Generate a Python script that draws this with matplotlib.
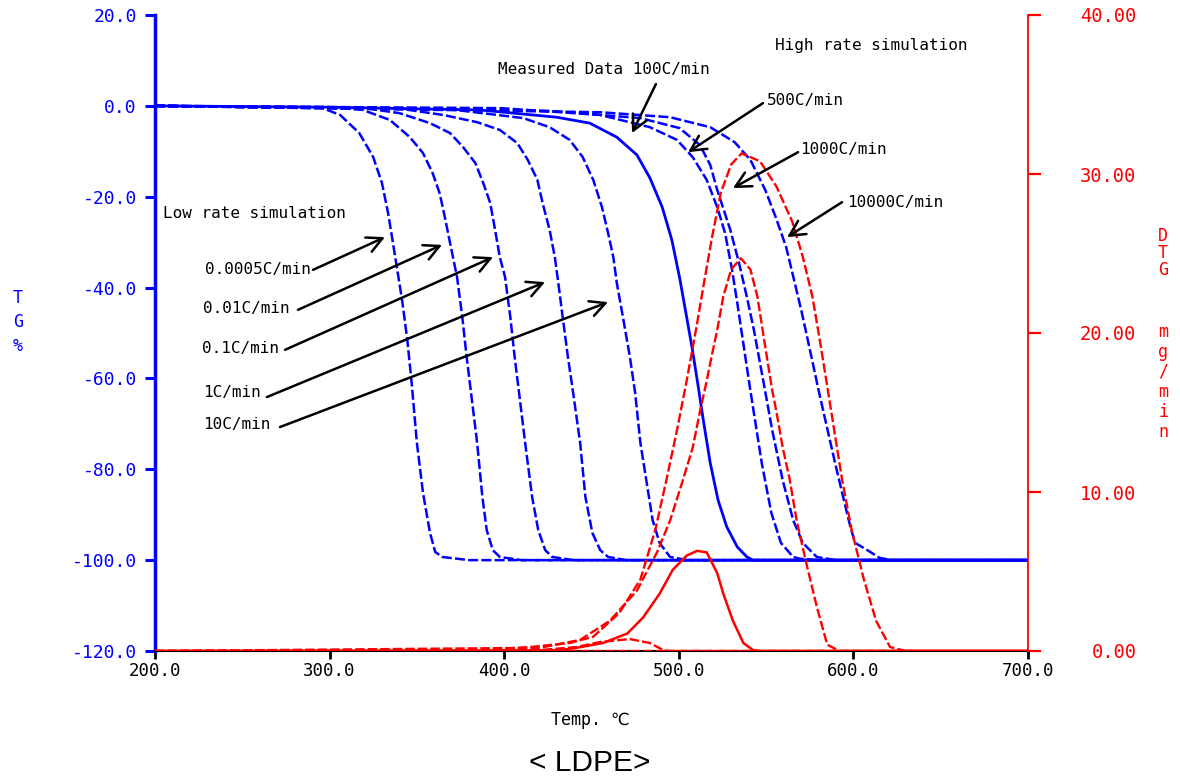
import matplotlib
matplotlib.use("Agg")
import matplotlib.pyplot as plt

plt.rcParams["font.family"] = ["DejaVu Sans Mono", "DejaVu Sans", "Noto Sans CJK JP"]
plt.rcParams["axes.unicode_minus"] = False

BLUE = "#0000ff"
RED = "#ff0000"

# ---- TG curves (%) ----
tg_T_00005 = [200, 296, 306, 317, 325, 330, 333.5, 336, 341.5, 344.5, 347, 350, 353.5, 357.5, 360.5, 364.5, 380, 700]
tg_00005 = [0, -0.5, -2.0, -6.0, -11.3, -17.0, -23.6, -29.5, -42.7, -51.5, -61, -74.2, -85.2, -94, -98.2, -99.3, -100, -100]

tg_T_001 = [200, 300, 319, 334.5, 346, 353.5, 359, 363, 366, 369, 373, 376, 378.5, 381.5, 384.5, 387.5, 390, 393.5, 397.5, 410, 700]
tg_001 = [0, -0.3, -0.9, -3.1, -6.9, -10.4, -14.8, -19.2, -24.5, -30.2, -37.7, -46.5, -55.3, -64.7, -74.2, -86.1, -93.4, -97.8, -99.3, -100, -100]

tg_T_01 = [200, 320, 340, 357.5, 369, 376.5, 383.5, 388, 392, 394.5, 397.5, 400.5, 403.5, 406, 409, 412, 416, 419.5, 423.5, 427.5, 440, 700]
tg_01 = [0, -0.5, -1.6, -3.8, -6.0, -9.1, -12.6, -17.0, -21.4, -26.7, -33.3, -37.7, -46.5, -55.3, -64.7, -74.2, -86.1, -93.4, -97.8, -99.3, -100, -100]

tg_T_1 = [200, 340, 365, 384.5, 397.5, 407.5, 413.5, 419, 422, 426, 429, 431, 433.5, 436.5, 439.5, 443.5, 446.5, 450.5, 455, 459.5, 470, 700]
tg_1 = [0, -0.6, -2.0, -3.6, -5.3, -8.2, -11.9, -16.3, -21.4, -27.3, -33.3, -39, -46.5, -55.3, -63.2, -74.2, -86.1, -94.0, -97.8, -99.3, -100, -100]

tg_T_10 = [200, 370, 396, 411, 426, 437.5, 445, 451, 456, 459.5, 462.5, 464.5, 468, 472, 475, 478, 482, 485, 489, 495, 505, 700]
tg_10 = [0, -0.8, -2.0, -2.7, -4.7, -7.5, -11.3, -16.3, -22.3, -28.0, -33.3, -39, -46.5, -55.3, -63.2, -74.2, -83.9, -91.2, -96.2, -99.3, -100, -100]

tg_T_meas = [200, 300, 386, 430, 449, 464.5, 476, 483.5, 490.5, 496, 500.5, 504.5, 507.8, 510.8, 514, 518, 522.5, 527.5, 533.5, 539, 542.5, 700]
tg_meas = [0, -0.3, -0.9, -2.5, -3.8, -6.9, -10.8, -15.9, -22.3, -29.5, -37.9, -46.5, -53.7, -61, -69.1, -78.6, -86.8, -92.7, -97.1, -99.3, -100, -100]

tg_T_500 = [200, 398, 455, 483.5, 499, 508, 516, 522, 526.5, 530.5, 533.5, 537.5, 540.5, 543, 547.5, 553, 558.5, 565.5, 569.5, 580, 700]
tg_500 = [0, -0.5, -2.0, -4.7, -7.5, -11.3, -16.3, -22.3, -28, -36.1, -43.4, -53.7, -61.4, -67.6, -78.6, -89.6, -96.2, -99.3, -99.7, -100, -100]

tg_T_1000 = [200, 426, 478, 500.5, 512, 518, 522, 529.5, 534.5, 539, 543, 546.5, 548.8, 553.5, 559.5, 565.5, 571, 579, 590, 700]
tg_1000 = [0, -1.1, -2.7, -4.9, -8.6, -13, -18.5, -27.3, -34.6, -42.1, -49.3, -56.6, -61.4, -71.4, -82.4, -91.2, -96.2, -99.3, -100, -100]

tg_T_10000 = [200, 455, 495, 518, 532, 541, 549.5, 555.5, 561.5, 566, 570.5, 576, 580, 583, 589.5, 595.5, 598.5, 601, 608, 615, 622, 700]
tg_10000 = [0, -1.4, -2.5, -4.7, -8, -11.9, -18.5, -24.5, -31.1, -38.3, -45.6, -55.3, -62.5, -67.6, -78.6, -88.3, -93, -96.2, -97.8, -99.5, -100, -100]

# ---- DTG curves (mg/min) ----
dtg_T_high = [200, 386, 415, 437.5, 451, 466, 478, 486.5, 493, 499, 504.5, 510, 514.5, 519, 524, 530, 536,
              546.5, 556, 565, 571, 576.5, 581, 584.5, 589, 593.5, 599, 606, 613, 621, 630, 700]
dtg_high = [0, 0.05, 0.25, 0.5, 0.9, 2.4, 4.5, 7.6, 10.8, 13.9, 17.0, 20.3, 23.2, 26.0, 28.8, 30.6, 31.3,
            30.8, 29.2, 27.0, 24.8, 22.3, 19.4, 17.0, 13.9, 10.8, 7.6, 4.5, 1.9, 0.25, 0, 0]

dtg_T_mid = [200, 420.5, 443.5, 460.5, 476, 487.5, 495, 502.5, 508, 512, 516, 518, 522, 525.5, 530, 535.5,
             541, 545, 548, 551, 553.5, 556, 559.5, 563.5, 567.5, 573.5, 579, 585, 592, 700]
dtg_mid = [0, 0.2, 0.7, 1.9, 3.8, 6.2, 8.2, 10.8, 12.8, 15.0, 17.0, 18.1, 20.2, 22.3, 24.0, 24.7,
           24.0, 22.3, 20.2, 18.1, 16.4, 15.0, 12.8, 10.8, 8.2, 5.3, 2.8, 0.4, 0, 0]

dtg_T_meas = [200, 432, 441.5, 456.5, 470.5, 479.5, 489, 496.5, 504.5, 510.5, 516, 522, 525.5, 531, 537, 542.5, 546.5, 700]
dtg_meas = [0, 0.05, 0.2, 0.5, 1.1, 2.1, 3.6, 5.1, 6.0, 6.3, 6.2, 4.9, 3.6, 1.9, 0.5, 0.06, 0, 0]

dtg_T_10 = [200, 386, 420.5, 441.5, 455, 472, 483.5, 491, 495, 700]
dtg_10 = [0, 0, 0.06, 0.25, 0.57, 0.75, 0.5, 0.06, 0, 0]

dtg_T_low = [200, 700]
dtg_low = [0, 0]

x_ticks = [200, 300, 400, 500, 600, 700]
tg_ticks = [-120, -100, -80, -60, -40, -20, 0, 20]
dtg_ticks = [0, 10, 20, 30, 40]

low_labels = ["0.0005C/min", "0.01C/min", "0.1C/min", "1C/min", "10C/min"]
high_labels = ["Measured Data 100C/min", "500C/min", "1000C/min", "10000C/min"]

W, H = 1180, 783
fig = plt.figure(figsize=(W / 100, H / 100), dpi=100)
ax = fig.add_axes([155 / W, 1 - 651 / H, (1028 - 155) / W, (651 - 15) / H])
ax2 = ax.twinx()

dash = (0, (4, 1.3))
for tx, ty in [(tg_T_00005, tg_00005), (tg_T_001, tg_001), (tg_T_01, tg_01), (tg_T_1, tg_1),
               (tg_T_10, tg_10), (tg_T_500, tg_500), (tg_T_1000, tg_1000), (tg_T_10000, tg_10000)]:
    ax.plot(tx, ty, color=BLUE, lw=1.8, ls=dash)
ax.plot(tg_T_meas, tg_meas, color=BLUE, lw=2.0)

for tx, ty in [(dtg_T_low, dtg_low), (dtg_T_10, dtg_10), (dtg_T_mid, dtg_mid), (dtg_T_high, dtg_high)]:
    ax2.plot(tx, ty, color=RED, lw=1.7, ls=dash)
ax2.plot(dtg_T_meas, dtg_meas, color=RED, lw=1.8)

ax.set_xlim(200, 700)
ax.set_ylim(-120, 20)
ax2.set_ylim(0, 40)

ax.set_xticks(x_ticks)
ax.set_xticklabels([f"{v:.1f}" for v in x_ticks])
ax.set_yticks(tg_ticks)
ax.set_yticklabels([f"{v:.1f}" for v in tg_ticks])
ax2.set_yticks(dtg_ticks)
ax2.set_yticklabels([f"{v:.2f}" for v in dtg_ticks])

for s in ["top", "right"]:
    ax.spines[s].set_visible(False)
for s in ["top", "left", "bottom"]:
    ax2.spines[s].set_visible(False)
ax.spines["left"].set_color(BLUE)
ax.spines["left"].set_linewidth(2.5)
ax.spines["bottom"].set_color("black")
ax.spines["bottom"].set_linewidth(1.5)
ax2.spines["right"].set_color(RED)
ax2.spines["right"].set_linewidth(1.3)

ax.tick_params(axis="y", colors=BLUE, direction="out", length=7, width=2.2, labelsize=13, pad=6)
ax.tick_params(axis="x", colors="black", direction="out", length=6, width=2, labelsize=12.5, pad=2)
ax2.tick_params(axis="y", colors=RED, direction="out", length=9, width=1.6, labelsize=13.5, pad=69)
for lab in ax2.get_yticklabels():
    lab.set_ha("right")

# annotations
ann_font = dict(fontsize=11.5, color="black", va="center", ha="left")
ax.text(204.6, -23.6, "Low rate simulation", **ann_font)
ax.text(555, 13.2, "High rate simulation", **ann_font)

low_text_pos = [(228.6, -36.1), (227.5, -44.7), (226.9, -53.5), (227.5, -63.2), (227.5, -70.2)]
low_arrows = [((290.5, -36.1), (331.7, -28.9)), ((281.9, -44.9), (364.4, -30.6)),
              ((274.5, -53.7), (393.6, -33.3)), ((264.1, -64.1), (423.4, -38.8)),
              ((271.6, -70.7), (459.5, -43.2))]
high_text_pos = [(396.4, 7.9), (550.5, 1.1), (569.4, -9.7), (596.3, -21.2)]
high_arrows = [((486.9, 4.8), (473.2, -6.0)), ((548.2, 0.6), (505.3, -10.2)),
               ((568.3, -10.2), (531, -18.1)), ((593.5, -21.2), (562, -28.9))]

aprops = dict(arrowstyle="->,head_length=0.55,head_width=0.28", lw=1.8, color="black",
              shrinkA=0, shrinkB=0, mutation_scale=20)
for lab, pos, (tail, head) in zip(low_labels + high_labels, low_text_pos + high_text_pos,
                                  low_arrows + high_arrows):
    ax2.text(pos[0], pos[1], lab, transform=ax.transData, **ann_font)
    ax2.annotate("", xy=head, xycoords=ax.transData, xytext=tail, textcoords=ax.transData,
                 arrowprops=aprops)

# axis titles
fig.text(18 / W, 1 - 322 / H, "T\nG\n%", color=BLUE, ha="center", va="center", fontsize=12, linespacing=1.4)
fig.text(1163 / W, 1 - 253 / H, "D\nT\nG", color=RED, ha="center", va="center", fontsize=12, linespacing=0.95)
fig.text(1163 / W, 1 - 382 / H, "m\ng\n/\nm\ni\nn", color=RED, ha="center", va="center", fontsize=12, linespacing=1.15)
fig.text(590 / W, 1 - 720 / H, "Temp. ℃", ha="center", va="center", fontsize=12)
fig.text(590 / W, 1 - 763 / H, "< LDPE>", ha="center", va="center", fontsize=21.5, family="Liberation Sans")

fig.savefig("out.png", dpi=100)
